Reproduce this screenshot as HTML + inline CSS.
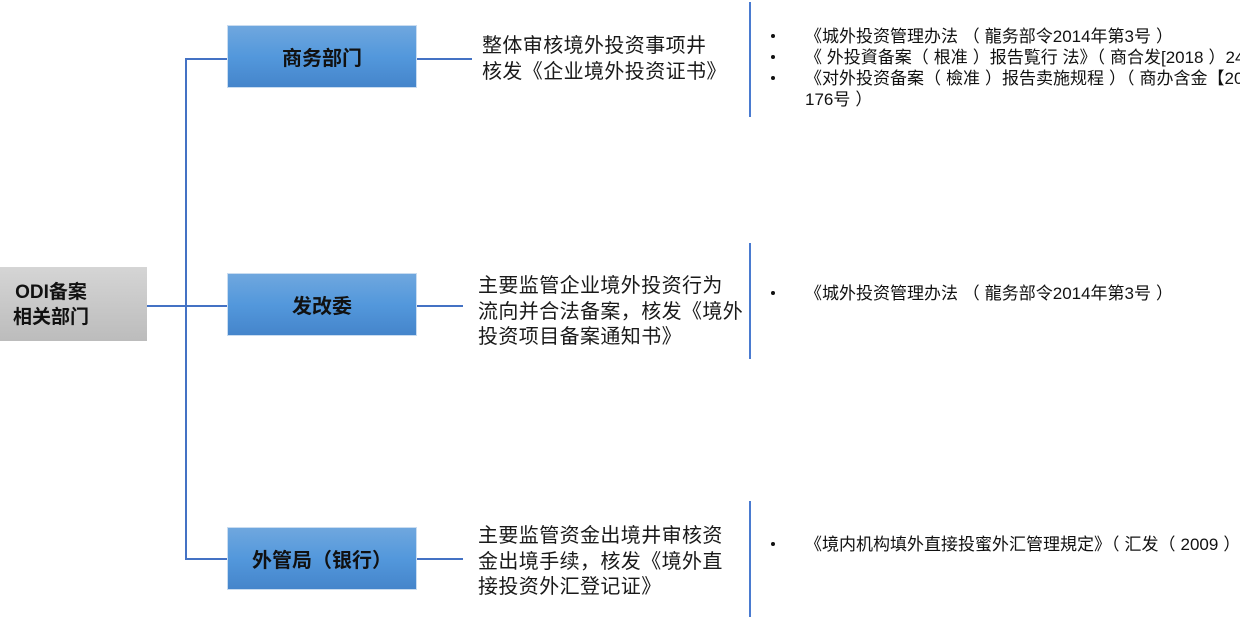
<!DOCTYPE html>
<html><head><meta charset="utf-8">
<style>
html,body{margin:0;padding:0;background:#fff;}
body{width:1240px;height:620px;position:relative;overflow:hidden;font-family:"Liberation Sans","Noto Sans CJK SC",sans-serif;color:#111;}
.a{position:absolute;}
.ln{position:absolute;background:#4472c4;}
.sep{position:absolute;background:#4a7bd0;width:2px;left:749px;}
.box{position:absolute;left:227px;width:190px;height:63px;background:linear-gradient(#6fa7de,#5398dc 50%,#4585cb);border:1px solid #c9dcf0;box-sizing:border-box;display:flex;align-items:center;justify-content:center;font-weight:bold;font-size:20px;color:#111;}
.t{position:absolute;font-size:20px;letter-spacing:0.4px;white-space:nowrap;color:#1a1a1a;}
.b{position:absolute;font-size:17px;line-height:21px;white-space:nowrap;color:#111;}
.dot{position:absolute;width:4px;height:4px;border-radius:50%;background:#111;left:771px;}
.o{margin-right:5px;}
.c{margin-left:5px;}
</style></head><body>
<!-- gray root -->
<div class="a" style="left:0;top:267px;width:147px;height:74px;background:linear-gradient(#d5d5d5,#bcbcbc);"></div>
<div class="a" style="left:8px;top:280px;width:86px;text-align:center;font-weight:bold;font-size:19px;line-height:25px;color:#111;">ODI备案<br>相关部门</div>

<!-- connectors -->
<div class="ln" style="left:147px;top:305px;width:80px;height:2px;"></div>
<div class="ln" style="left:185px;top:58px;width:2px;height:502px;"></div>
<div class="ln" style="left:185px;top:58px;width:42px;height:2px;"></div>
<div class="ln" style="left:185px;top:558px;width:42px;height:2px;"></div>
<div class="ln" style="left:417px;top:58px;width:55px;height:2px;"></div>
<div class="ln" style="left:417px;top:305px;width:46px;height:2px;"></div>
<div class="ln" style="left:417px;top:558px;width:46px;height:2px;"></div>

<!-- boxes -->
<div class="box" style="top:25px;">商务部门</div>
<div class="box" style="top:273px;">发改委</div>
<div class="box" style="top:527px;">外管局（银行）</div>

<!-- descriptions -->
<div class="t" style="left:482px;top:33px;line-height:26px;">整体审核境外投资事项井<br>核发《企业境外投资证书》</div>
<div class="t" style="left:478px;top:274px;line-height:25.5px;">主要监管企业境外投资行为<br>流向并合法备案，核发《境外<br>投资项目备案通知书》</div>
<div class="t" style="left:478px;top:524px;line-height:25.5px;">主要监管资金出境井审核资<br>金出境手续，核发《境外直<br>接投资外汇登记证》</div>

<!-- separators -->
<div class="sep" style="top:2px;height:115px;"></div>
<div class="sep" style="top:243px;height:116px;"></div>
<div class="sep" style="top:501px;height:116px;"></div>

<!-- bullets -->
<div class="dot" style="top:34px;"></div>
<div class="dot" style="top:55px;"></div>
<div class="dot" style="top:76px;"></div>
<div class="b" style="left:805px;top:25.5px;">《城外投资管理办法 <span class="o">（</span>龍务部令2014年第3号<span class="c">）</span><br>《 外投資备案<span class="o">（</span>根准<span class="c">）</span>报告覧行 法》<span class="o">（</span>商合发[2018<span class="c">）</span>24号）<br>《对外投资备案<span class="o">（</span>檢准<span class="c">）</span>报告卖施规程<span class="c">）</span><span class="o">（</span>商办含金【2018】<br>176号<span class="c">）</span></div>

<div class="dot" style="top:291px;"></div>
<div class="b" style="left:805px;top:282.5px;">《城外投资管理办法 <span class="o">（</span>龍务部令2014年第3号<span class="c">）</span></div>

<div class="dot" style="top:542px;"></div>
<div class="b" style="left:805px;top:533.5px;">《境内机构填外直接投蜜外汇管理規定》<span class="o">（</span>汇发<span class="o">（</span>2009<span class="c">）</span></div>
</body></html>
